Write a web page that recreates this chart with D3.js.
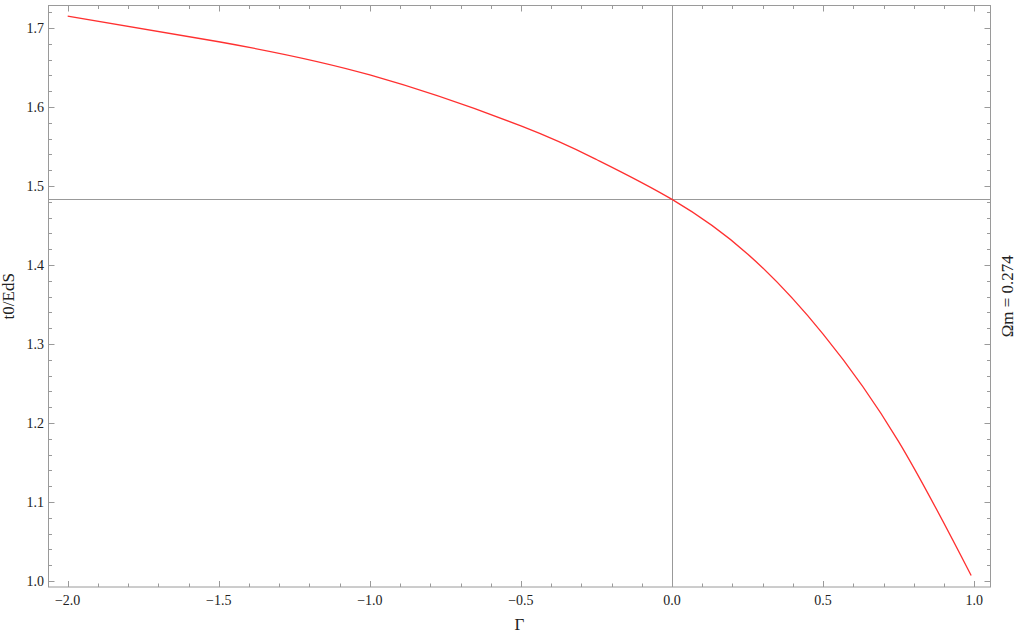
<!DOCTYPE html>
<html>
<head>
<meta charset="utf-8">
<script src="https://cdn.jsdelivr.net/npm/d3@7"></script>
<style>
  body { margin: 0; background: #fff; }
  svg { display: block; }
  text { font-family: "Liberation Serif", "Times New Roman", serif; fill: #222; }
</style>
</head>
<body>
<svg width="1024" height="633"></svg>
<script>
// values
var gammaVals = [-2.0, -1.5, -1.0, -0.5, -0.25, 0.0, 0.25, 0.5, 0.75, 0.99];
var ratioVals = [1.715, 1.6825, 1.6405, 1.576, 1.5335, 1.483, 1.414, 1.3125, 1.1765, 1.007];

var xTicks = [-2.0, -1.5, -1.0, -0.5, 0.0, 0.5, 1.0];
var yTicks = [1.0, 1.1, 1.2, 1.3, 1.4, 1.5, 1.6, 1.7];
var refLineY = 1.483;   // horizontal guide
var refLineX = 0.0;     // vertical guide
var xLabel = "\u0393";
var yLabel = "t0/EdS";
var sideLabel = "\u03A9m = 0.274";

(function() {
    var svg = d3.select("svg"),
        fLeft = 48.5, fRight = 990.5, fTop = 5.5, fBottom = 587;

    var x = d3.scaleLinear().domain([-2.0635, 1.054]).range([fLeft, fRight]);
    var y = d3.scaleLinear().domain([0.9924, 1.7284]).range([fBottom, fTop]);

    var frameColor = "#9a9a9a";
    var fmt = function(d) { return d3.format(".1f")(d).replace("-", "\u2212"); };

    // minor tick values
    var xMinor = d3.range(-20, 11).map(function(i) { return i / 10; });
    var yMinor = d3.range(50, 87).map(function(i) { return i / 50; });

    var isMajorX = function(d) { return Math.abs(d * 2 - Math.round(d * 2)) < 1e-6; };
    var isMajorY = function(d) { return Math.abs(d * 10 - Math.round(d * 10)) < 1e-6; };

    // guide lines
    svg.append("line")
        .attr("x1", fLeft).attr("x2", fRight)
        .attr("y1", Math.round(y(refLineY)) + 0.5).attr("y2", Math.round(y(refLineY)) + 0.5)
        .attr("stroke", "#999").attr("stroke-width", 1);
    svg.append("line")
        .attr("x1", Math.round(x(refLineX)) + 0.5).attr("x2", Math.round(x(refLineX)) + 0.5)
        .attr("y1", fTop).attr("y2", fBottom)
        .attr("stroke", "#999").attr("stroke-width", 1);

    // ticks on all four sides, pointing inward
    var ticks = svg.append("g").attr("stroke", frameColor).attr("stroke-width", 1);
    xMinor.forEach(function(d) {
        var len = isMajorX(d) ? 6 : 3.5, px = Math.round(x(d)) + 0.5;
        ticks.append("line").attr("x1", px).attr("x2", px).attr("y1", fBottom).attr("y2", fBottom - len);
        ticks.append("line").attr("x1", px).attr("x2", px).attr("y1", fTop).attr("y2", fTop + len);
    });
    yMinor.forEach(function(d) {
        var len = isMajorY(d) ? 6 : 3.5, py = Math.round(y(d)) + 0.5;
        ticks.append("line").attr("y1", py).attr("y2", py).attr("x1", fLeft).attr("x2", fLeft + len);
        ticks.append("line").attr("y1", py).attr("y2", py).attr("x1", fRight).attr("x2", fRight - len);
    });

    // frame
    svg.append("rect")
        .attr("x", fLeft).attr("y", fTop)
        .attr("width", fRight - fLeft).attr("height", fBottom - fTop)
        .attr("fill", "none").attr("stroke", frameColor).attr("stroke-width", 1);

    // tick labels
    svg.append("g").selectAll("text")
        .data(xTicks).enter().append("text")
        .attr("x", function(d) { return x(d); })
        .attr("y", 605)
        .attr("text-anchor", "middle")
        .attr("font-size", 14)
        .text(fmt);

    svg.append("g").selectAll("text")
        .data(yTicks).enter().append("text")
        .attr("x", 44)
        .attr("y", function(d) { return y(d); })
        .attr("dy", "0.33em")
        .attr("text-anchor", "end")
        .attr("font-size", 14)
        .text(fmt);

    // the curve
    var line = d3.line()
        .x(function(d, i) { return x(gammaVals[i]); })
        .y(function(d) { return y(d); })
        .curve(d3.curveNatural);

    svg.append("path")
        .datum(ratioVals)
        .attr("d", line)
        .attr("fill", "none")
        .attr("stroke", "#ff3030")
        .attr("stroke-width", 1.3);

    // axis titles
    svg.append("text")
        .attr("x", (fLeft + fRight) / 2)
        .attr("y", 630)
        .attr("text-anchor", "middle")
        .attr("font-size", 17)
        .text(xLabel);

    svg.append("text")
        .attr("transform", "translate(14," + (fTop + fBottom) / 2 + ") rotate(-90)")
        .attr("text-anchor", "middle")
        .attr("font-size", 17)
        .text(yLabel);

    svg.append("text")
        .attr("transform", "translate(1013," + (fTop + fBottom) / 2 + ") rotate(-90)")
        .attr("text-anchor", "middle")
        .attr("font-size", 17)
        .text(sideLabel);
})();
</script>
</body>
</html>
